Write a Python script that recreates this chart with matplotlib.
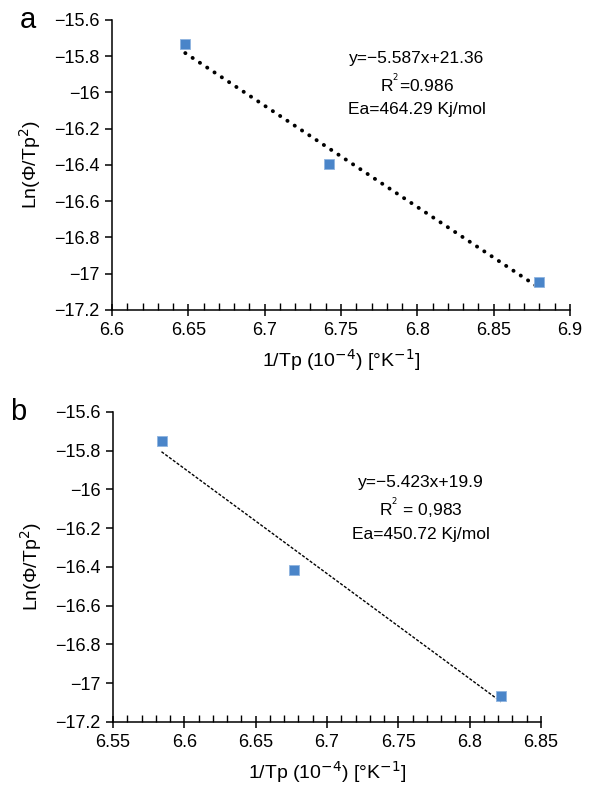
import matplotlib
matplotlib.use("Agg")
import matplotlib.pyplot as plt
from matplotlib.ticker import MultipleLocator, FuncFormatter
import numpy as np

plt.rcParams['font.family'] = ['Liberation Sans', 'DejaVu Sans']

# Panel a data
xa = [6.648, 6.742, 6.880]
ya = [-15.73, -16.395, -17.045]
slope_a, intercept_a = -5.587, 21.36
text_a = ["y=\u22125.587x+21.36", "R$^{^2}$=0.986", "Ea=464.29 Kj/mol"]

# Panel b data
xb = [6.584, 6.677, 6.822]
yb = [-15.75, -16.415, -17.065]
slope_b, intercept_b = -5.423, 19.9
text_b = ["y=\u22125.423x+19.9", "R$^{^2}$ = 0,983", "Ea=450.72 Kj/mol"]

W, H = 590, 786
fig = plt.figure(figsize=(W/100, H/100), dpi=100)

def fmt(v, pos):
    s = ('%g' % round(v, 3))
    return s.replace('-', '\u2212')

def make_ax(rect, xlim, xmajor, panel_label, lab_x):
    ax = fig.add_axes(rect)
    ax.set_xlim(*xlim)
    ax.set_ylim(-17.2, -15.6)
    ax.spines['top'].set_visible(False)
    ax.spines['right'].set_visible(False)
    for s in ('left', 'bottom'):
        ax.spines[s].set_linewidth(1.1)
    ax.xaxis.set_major_locator(MultipleLocator(xmajor))
    ax.xaxis.set_minor_locator(MultipleLocator(0.01))
    ax.yaxis.set_major_locator(MultipleLocator(0.2))
    ax.xaxis.set_major_formatter(FuncFormatter(fmt))
    ax.yaxis.set_major_formatter(FuncFormatter(fmt))
    ax.tick_params(axis='x', which='major', direction='inout', length=9, width=1.1, labelsize=13, pad=4)
    ax.tick_params(axis='x', which='minor', direction='in', length=5, width=1.0)
    ax.tick_params(axis='y', which='major', direction='out', length=5, width=1.1, labelsize=13, pad=4)
    ax.set_xlabel('1/Tp (10$^{\u22124}$) [\u00b0K$^{\u22121}$]', fontsize=14, labelpad=6)
    ax.set_ylabel('Ln(\u03a6/Tp$^{2}$)', fontsize=14, labelpad=8)
    fig.text(lab_x, rect[1] + rect[3], panel_label, fontsize=21, va='center', ha='left')
    return ax

# Panel a
axa = make_ax([112/W, 1-310/H, (570-112)/W, (310-20)/H], (6.6, 6.9), 0.05, 'a', 20/W)
xt = np.array([min(xa), max(xa)])
axa.plot(xt, slope_a*xt + intercept_a, color='black', linestyle=(0, (0.05, 2.2)), linewidth=2.8,
         dash_capstyle='round', zorder=2)
axa.scatter(xa, ya, marker='s', s=45, color='#4A85C9', edgecolors='#8FB4E0', linewidths=0.6, zorder=3)
for i, (t, yy) in enumerate(zip(text_a, [0.866, 0.78, 0.69])):
    axa.text(0.665, yy, t, transform=axa.transAxes, fontsize=12.5, ha='center', va='center')

# Panel b
axb = make_ax([113/W, 1-722/H, (541-113)/W, (722-412)/H], (6.55, 6.85), 0.05, 'b', 10/W)
xt = np.array([min(xb), max(xb)])
axb.plot(xt, slope_b*xt + intercept_b, color='black', linestyle=(0, (2.2, 1.2)), linewidth=1.0, zorder=2)
axb.scatter(xb, yb, marker='s', s=45, color='#4A85C9', edgecolors='#8FB4E0', linewidths=0.6, zorder=3)
for i, (t, yy) in enumerate(zip(text_b, [0.771, 0.69, 0.606])):
    axb.text(0.72, yy, t, transform=axb.transAxes, fontsize=12.5, ha='center', va='center')

fig.savefig('out.png', dpi=100)
